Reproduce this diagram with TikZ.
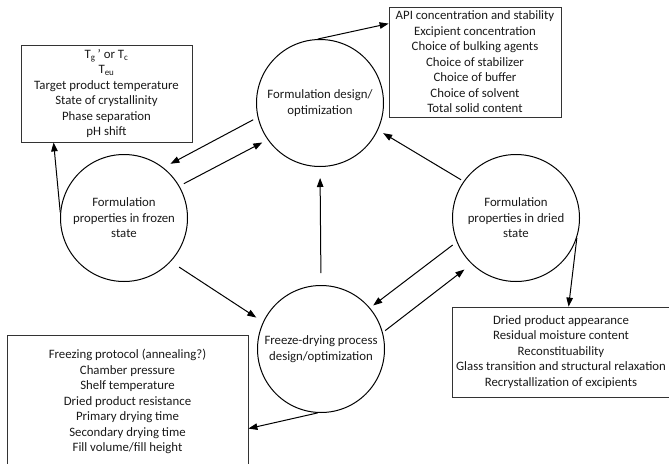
\documentclass[tikz,border=0pt]{standalone}
\usepackage{fontspec}
\setmainfont{Carlito}
\usetikzlibrary{arrows.meta,calc}
\begin{document}
\begin{tikzpicture}[x=1pt,y=-1pt,
  every node/.style={font=\fontsize{12.8}{15.5}\selectfont, text=black!90},
  stage/.style={draw=black, line width=1pt, circle, minimum size=127pt, inner sep=0pt, align=center},
  infobox/.style={draw=black!80, line width=0.8pt, rectangle, inner sep=0pt, align=center},
  arr/.style={draw=black, line width=1pt, -{Triangle[length=9pt,width=6.5pt]}}]
\useasboundingbox (0,0) rectangle (669,463);
\clip (0,0) rectangle (669,463);

% stages
\node[stage] (T) at (320,103) {Formulation design/\\optimization};
\node[stage] (L) at (124,218) {Formulation\\properties in frozen\\state};
\node[stage] (R) at (516,218) {Formulation\\properties in dried\\state};
\node[stage] (B) at (321,349) {Freeze-drying process\\design/optimization};

% information boxes
\node[infobox, minimum width=171pt, minimum height=97pt] (TL) at (106.5,93.5)
  {T\textsubscript{g}\,’ or T\textsubscript{c}\\
   T\textsubscript{eu}\\
   Target product temperature\\
   State of crystallinity\\
   Phase separation\\
   pH shift};
\node[infobox, minimum width=172pt, minimum height=110pt] (TR) at (475,62)
  {API concentration and stability\\
   Excipient concentration\\
   Choice of bulking agents\\
   Choice of stabilizer\\
   Choice of buffer\\
   Choice of solvent\\
   Total solid content};
\node[infobox, minimum width=218pt, minimum height=90pt] (BR) at (561,352)
  {Dried product appearance\\
   Residual moisture content\\
   Reconstituability\\
   Glass transition and structural relaxation\\
   Recrystallization of excipients};
\node[infobox, minimum width=241pt, minimum height=133pt] (BL) at (127.5,401.5)
  {Freezing protocol (annealing?)\\
   Chamber pressure\\
   Shelf temperature\\
   Dried product resistance\\
   Primary drying time\\
   Secondary drying time\\
   Fill volume/fill height};

% connectors
\draw[arr, shorten <=5pt, shorten >=8pt] (T.193) -- (L.52);
\draw[arr, shorten <=5pt, shorten >=6pt] (L.30) -- (T.215);
\draw[arr] (L.175) -- ([xshift=33pt]TL.south west);
\draw[arr, shorten <=10pt, shorten >=8pt] (L.-43) -- (B.155);
\draw[arr, shorten <=12pt, shorten >=11pt] (B.90) -- (T.270);
\draw[arr, shorten <=3pt, shorten >=6pt] (R.145) -- (T.-25);
\draw[arr, shorten <=5pt, shorten >=4pt] (R.202) -- (B.40);
\draw[arr, shorten <=3pt, shorten >=9pt] (B.15) -- (R.226);
\draw[arr] (R.-18) -- ([xshift=117pt]BR.north west);
\draw[arr] (B.-93) -- ([yshift=-94pt]BL.north east);
\draw[arr] (T.92) -- ([yshift=-17pt]TR.north west);
\end{tikzpicture}
\end{document}
